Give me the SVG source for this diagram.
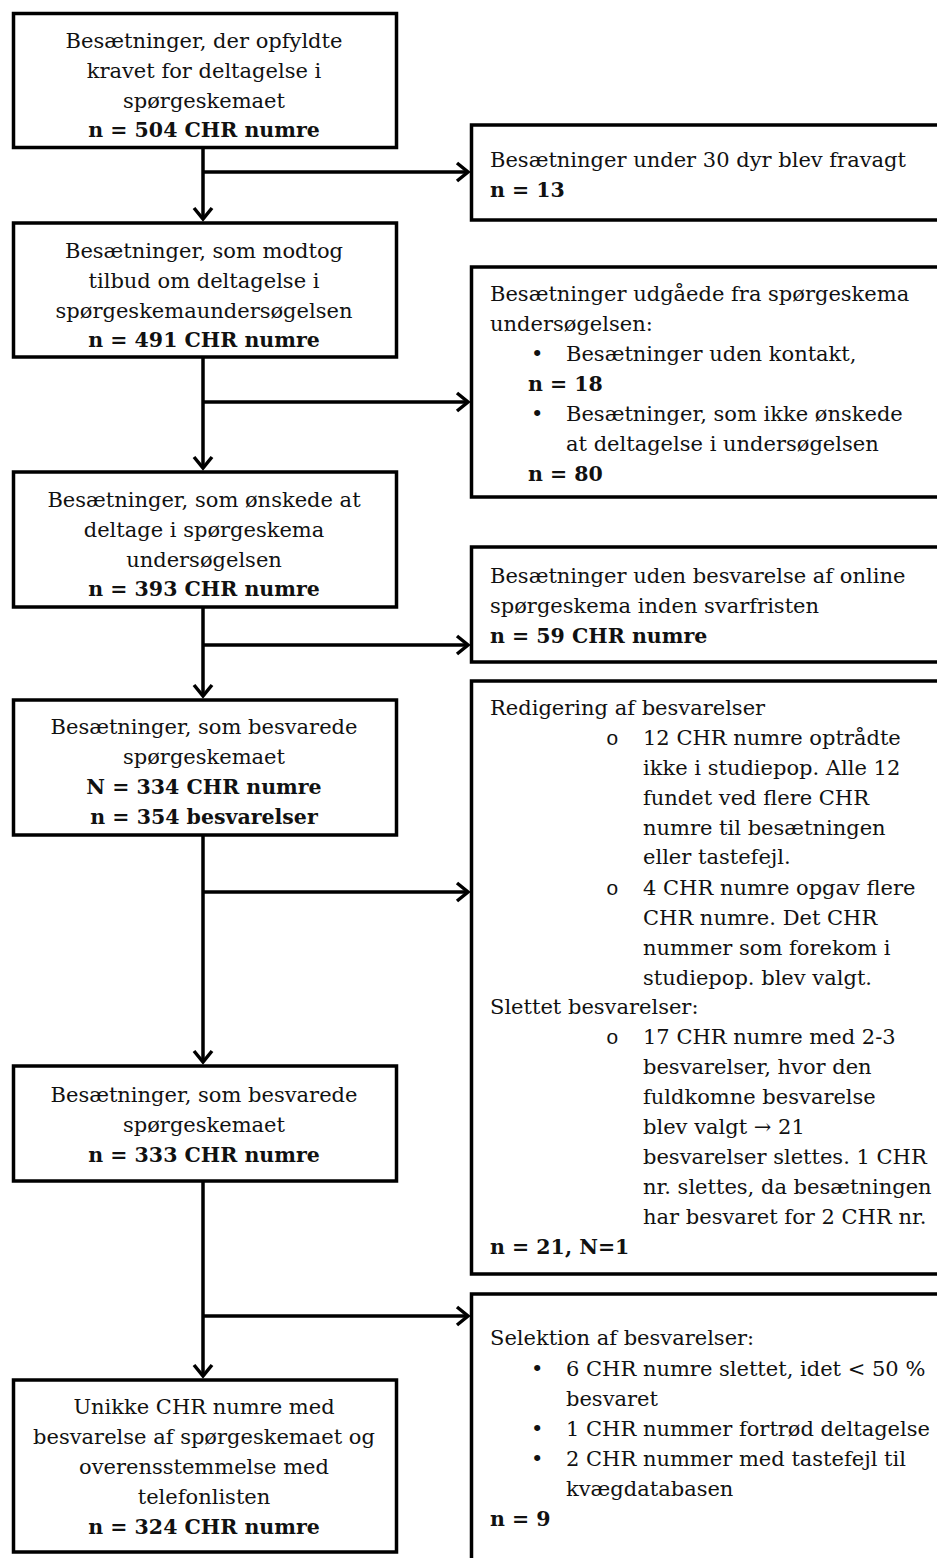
<svg xmlns="http://www.w3.org/2000/svg" width="937" height="1558" viewBox="0 0 937 1558">
<defs>
<style>
.box{fill:#fff;stroke:#000;stroke-width:3.5}
.t{font-family:"DejaVu Serif","Liberation Serif",serif;font-size:21px;fill:#111}
.c{text-anchor:middle}
.b{font-weight:bold;font-size:20.5px}
.o{font-family:"Liberation Mono",monospace;font-size:21px;fill:#111}
.ln{stroke:#000;stroke-width:3.5;fill:none}
</style>
<marker id="ah" markerUnits="userSpaceOnUse" markerWidth="24" markerHeight="24" refX="0" refY="0" viewBox="-14 -12 16 24" orient="auto" overflow="visible">
<path d="M-11,-9 L0,0 L-11,9" fill="none" stroke="#000" stroke-width="3.5" stroke-linejoin="miter"/>
</marker>
</defs>
<rect width="937" height="1558" fill="#fff"/>

<g id="connectors">
<line class="ln" x1="203" y1="148" x2="203" y2="219" marker-end="url(#ah)"/>
<line class="ln" x1="203" y1="172" x2="468" y2="172" marker-end="url(#ah)"/>
<line class="ln" x1="203" y1="357" x2="203" y2="468" marker-end="url(#ah)"/>
<line class="ln" x1="203" y1="402" x2="468" y2="402" marker-end="url(#ah)"/>
<line class="ln" x1="203" y1="607" x2="203" y2="696" marker-end="url(#ah)"/>
<line class="ln" x1="203" y1="645" x2="468" y2="645" marker-end="url(#ah)"/>
<line class="ln" x1="203" y1="835" x2="203" y2="1062" marker-end="url(#ah)"/>
<line class="ln" x1="203" y1="892" x2="468" y2="892" marker-end="url(#ah)"/>
<line class="ln" x1="203" y1="1181" x2="203" y2="1376" marker-end="url(#ah)"/>
<line class="ln" x1="203" y1="1316" x2="468" y2="1316" marker-end="url(#ah)"/>
</g>

<g id="n1">
<rect class="box" x="13.5" y="13.5" width="383" height="134"/>
<text class="t c" x="204" y="48">Besætninger, der opfyldte</text>
<text class="t c" x="204" y="78">kravet for deltagelse i</text>
<text class="t c" x="204" y="108">spørgeskemaet</text>
<text class="t c b" x="204" y="137">n = 504 CHR numre</text>
</g>

<g id="n2">
<rect class="box" x="13.5" y="223" width="383" height="134"/>
<text class="t c" x="204" y="258">Besætninger, som modtog</text>
<text class="t c" x="204" y="288">tilbud om deltagelse i</text>
<text class="t c" x="204" y="318">spørgeskemaundersøgelsen</text>
<text class="t c b" x="204" y="347">n = 491 CHR numre</text>
</g>

<g id="n3">
<rect class="box" x="13.5" y="472" width="383" height="135"/>
<text class="t c" x="204" y="507">Besætninger, som ønskede at</text>
<text class="t c" x="204" y="537">deltage i spørgeskema</text>
<text class="t c" x="204" y="567">undersøgelsen</text>
<text class="t c b" x="204" y="596">n = 393 CHR numre</text>
</g>

<g id="n4">
<rect class="box" x="13.5" y="700" width="383" height="135"/>
<text class="t c" x="204" y="734">Besætninger, som besvarede</text>
<text class="t c" x="204" y="764">spørgeskemaet</text>
<text class="t c b" x="204" y="794">N = 334 CHR numre</text>
<text class="t c b" x="204" y="824">n = 354 besvarelser</text>
</g>

<g id="n5">
<rect class="box" x="13.5" y="1066" width="383" height="115"/>
<text class="t c" x="204" y="1102">Besætninger, som besvarede</text>
<text class="t c" x="204" y="1132">spørgeskemaet</text>
<text class="t c b" x="204" y="1162">n = 333 CHR numre</text>
</g>

<g id="n6">
<rect class="box" x="13.5" y="1380" width="383" height="172"/>
<text class="t c" x="204" y="1414">Unikke CHR numre med</text>
<text class="t c" x="204" y="1444">besvarelse af spørgeskemaet og</text>
<text class="t c" x="204" y="1474">overensstemmelse med</text>
<text class="t c" x="204" y="1504">telefonlisten</text>
<text class="t c b" x="204" y="1534">n = 324 CHR numre</text>
</g>

<g id="r1">
<rect class="box" x="471.5" y="125" width="480" height="95"/>
<text class="t" x="490" y="167">Besætninger under 30 dyr blev fravagt</text>
<text class="t b" x="490" y="197">n = 13</text>
</g>

<g id="r2">
<rect class="box" x="471.5" y="267" width="480" height="230"/>
<text class="t" x="490" y="301">Besætninger udgåede fra spørgeskema</text>
<text class="t" x="490" y="331">undersøgelsen:</text>
<text class="t" x="531" y="361">•</text>
<text class="t" x="566" y="361">Besætninger uden kontakt,</text>
<text class="t b" x="528" y="391">n = 18</text>
<text class="t" x="531" y="421">•</text>
<text class="t" x="566" y="421">Besætninger, som ikke ønskede</text>
<text class="t" x="566" y="451">at deltagelse i undersøgelsen</text>
<text class="t b" x="528" y="481">n = 80</text>
</g>

<g id="r3">
<rect class="box" x="471.5" y="547" width="480" height="115"/>
<text class="t" x="490" y="583">Besætninger uden besvarelse af online</text>
<text class="t" x="490" y="613">spørgeskema inden svarfristen</text>
<text class="t b" x="490" y="643">n = 59 CHR numre</text>
</g>

<g id="r4">
<rect class="box" x="471.5" y="681" width="480" height="593"/>
<text class="t" x="490" y="715">Redigering af besvarelser</text>
<text class="o" x="606" y="745">o</text>
<text class="t" x="643" y="745">12 CHR numre optrådte</text>
<text class="t" x="643" y="775">ikke i studiepop. Alle 12</text>
<text class="t" x="643" y="805">fundet ved flere CHR</text>
<text class="t" x="643" y="835">numre til besætningen</text>
<text class="t" x="643" y="864">eller tastefejl.</text>
<text class="o" x="606" y="895">o</text>
<text class="t" x="643" y="895">4 CHR numre opgav flere</text>
<text class="t" x="643" y="925">CHR numre. Det CHR</text>
<text class="t" x="643" y="955">nummer som forekom i</text>
<text class="t" x="643" y="985">studiepop. blev valgt.</text>
<text class="t" x="490" y="1014">Slettet besvarelser:</text>
<text class="o" x="606" y="1044">o</text>
<text class="t" x="643" y="1044">17 CHR numre med 2-3</text>
<text class="t" x="643" y="1074">besvarelser, hvor den</text>
<text class="t" x="643" y="1104">fuldkomne besvarelse</text>
<text class="t" x="643" y="1134">blev valgt → 21</text>
<text class="t" x="643" y="1164">besvarelser slettes. 1 CHR</text>
<text class="t" x="643" y="1194">nr. slettes, da besætningen</text>
<text class="t" x="643" y="1224">har besvaret for 2 CHR nr.</text>
<text class="t b" x="490" y="1254">n = 21, N=1</text>
</g>

<g id="r5">
<rect class="box" x="471.5" y="1294" width="480" height="300"/>
<text class="t" x="490" y="1345">Selektion af besvarelser:</text>
<text class="t" x="531" y="1376">•</text>
<text class="t" x="566" y="1376">6 CHR numre slettet, idet &lt; 50 %</text>
<text class="t" x="566" y="1406">besvaret</text>
<text class="t" x="531" y="1436">•</text>
<text class="t" x="566" y="1436">1 CHR nummer fortrød deltagelse</text>
<text class="t" x="531" y="1466">•</text>
<text class="t" x="566" y="1466">2 CHR nummer med tastefejl til</text>
<text class="t" x="566" y="1496">kvægdatabasen</text>
<text class="t b" x="490" y="1526">n = 9</text>
</g>
</svg>
